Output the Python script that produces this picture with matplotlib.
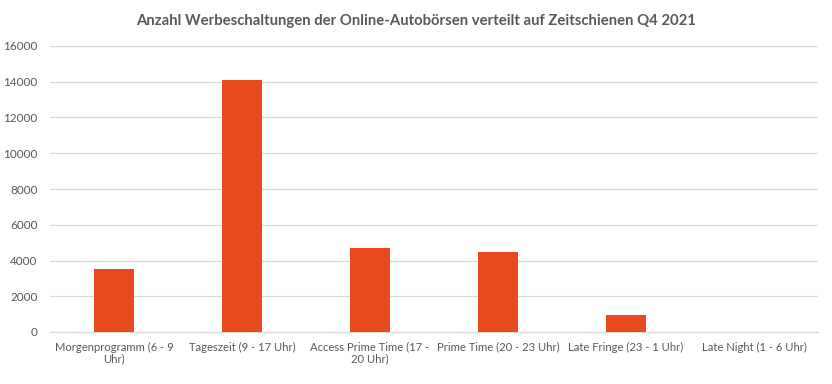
import matplotlib.pyplot as plt
import numpy as np

plt.rcParams['font.family'] = ['Lato', 'DejaVu Sans']

categories = [
    "Morgenprogramm (6 - 9\nUhr)",
    "Tageszeit (9 - 17 Uhr)",
    "Access Prime Time (17 -\n20 Uhr)",
    "Prime Time (20 - 23 Uhr)",
    "Late Fringe (23 - 1 Uhr)",
    "Late Night (1 - 6 Uhr)",
]
values = [3500, 14100, 4700, 4450, 950, 0]
yticks = [0, 2000, 4000, 6000, 8000, 10000, 12000, 14000, 16000]

TEXT = "#595959"
GRID = "#D9D9D9"
BAR = "#E8491D"

fig = plt.figure(figsize=(8.32, 3.84), dpi=100)
ax = fig.add_axes([50 / 832, 1 - 332 / 384, 768 / 832, 286 / 384])

x = np.arange(len(categories))
ax.bar(x, values, width=0.31, color=BAR, zorder=3)

ax.set_xlim(-0.5, len(categories) - 0.5)
ax.set_ylim(0, 16000)
ax.set_yticks(yticks)
ax.set_yticklabels([str(t) for t in yticks], color=TEXT, fontsize=8.5)
ax.set_xticks(x)
ax.set_xticklabels(categories, color=TEXT, fontsize=8.1, linespacing=1.1)
ax.tick_params(length=0, pad=7)
ax.tick_params(axis='y', pad=9)
ax.grid(axis='y', color=GRID, linewidth=0.9, zorder=0)
for side in ["top", "right", "left"]:
    ax.spines[side].set_visible(False)
ax.spines["bottom"].set_color(GRID)
ax.spines["bottom"].set_linewidth(0.9)

fig.text(0.5, 1 - 21 / 384, "Anzahl Werbeschaltungen der Online-Autobörsen verteilt auf Zeitschienen Q4 2021",
         ha="center", va="center", fontsize=10.7, fontweight="bold", color=TEXT)

fig.savefig("out.png", dpi=100, facecolor="white")
